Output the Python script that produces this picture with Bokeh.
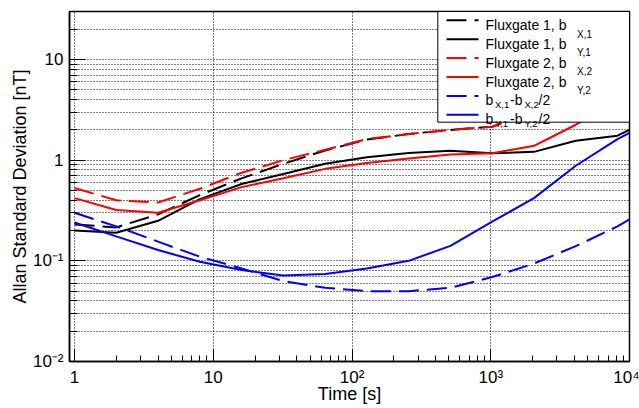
import math
from bokeh.plotting import figure
from bokeh.models import FixedTicker, Range1d
from bokeh.core.properties import value
from bokeh.embed import file_html
from bokeh.resources import INLINE

# ---------------- data ----------------
tau = [1, 2, 4, 8, 16, 32, 64, 128, 256, 512, 1024, 2048, 4096, 8192, 16384]
fg1_bx = [0.23, 0.215, 0.29, 0.45, 0.66, 0.92, 1.25, 1.60, 1.82, 2.00, 2.15, 3.00, 4.20, 6.00, 8.00]
fg1_by = [0.20, 0.19, 0.25, 0.41, 0.58, 0.73, 0.92, 1.07, 1.18, 1.24, 1.17, 1.21, 1.56, 1.75, 2.78]
fg2_bx = [0.53, 0.40, 0.38, 0.52, 0.75, 1.00, 1.27, 1.62, 1.82, 2.00, 2.15, 3.00, 4.30, 6.20, 8.50]
fg2_by = [0.42, 0.32, 0.30, 0.40, 0.54, 0.66, 0.82, 0.94, 1.04, 1.14, 1.17, 1.39, 2.25, 3.70, 5.50]
diff_x = [0.30, 0.22, 0.155, 0.11, 0.084, 0.063, 0.054, 0.050, 0.050, 0.054, 0.069, 0.094, 0.14, 0.22, 0.38]
diff_y = [0.24, 0.175, 0.128, 0.098, 0.081, 0.0715, 0.074, 0.084, 0.10, 0.141, 0.245, 0.42, 0.88, 1.62, 2.66]

x_tick_vals = [1, 10, 100, 1000, 10000]
x_tick_labels = ["1", "10", "10\u00b2", "10\u00b3", "10\u2074"]
y_tick_vals = [0.01, 0.1, 1, 10]
y_tick_labels = ["10\u207b\u00b2", "10\u207b\u00b9", "1", "10"]

x_title = "Time [s]"
y_title = "Allan Standard Deviation [nT]"

# ---------------- layout ----------------
W, H = 639, 408
FL, FR, FT, FB = 69, 10, 11, 47
X0, X1 = 0.92, 1.0e4
Y0, Y1 = 0.01, 30.0
FW, FH = W - FL - FR, H - FT - FB
FONT = "Liberation Sans"


def px2x(px):
    lx0, lx1 = math.log10(X0), math.log10(X1)
    return 10 ** (lx0 + (px - FL) / FW * (lx1 - lx0))


def py2y(py):
    ly0, ly1 = math.log10(Y0), math.log10(Y1)
    return 10 ** (ly1 - (py - FT) / FH * (ly1 - ly0))


p = figure(width=W, height=H, x_axis_type="log", y_axis_type="log",
           x_range=Range1d(X0, X1), y_range=Range1d(Y0, Y1),
           output_backend="svg", toolbar_location=None,
           min_border_left=FL, min_border_right=FR,
           min_border_top=FT, min_border_bottom=FB)
p.background_fill_color = "white"
p.border_fill_color = "white"
p.outline_line_color = "black"
p.outline_line_width = 1.5

xmin_t = [k * 10 ** e for e in range(0, 4) for k in range(2, 10)]
ymin_t = [k * 10.0 ** e for e in range(-2, 2) for k in range(2, 10)]
xt = FixedTicker(ticks=x_tick_vals, minor_ticks=xmin_t)
yt = FixedTicker(ticks=y_tick_vals, minor_ticks=ymin_t)
p.xaxis.ticker = xt
p.yaxis.ticker = yt
p.xgrid.ticker = xt
p.ygrid.ticker = yt
p.xaxis.major_label_overrides = {v: s for v, s in zip(x_tick_vals, x_tick_labels)}
p.yaxis.major_label_overrides = {v: s for v, s in zip(y_tick_vals, y_tick_labels)}

for ax in (p.xaxis[0], p.yaxis[0]):
    ax.axis_line_color = "black"
    ax.axis_line_width = 1.5
    ax.major_tick_line_color = "black"
    ax.minor_tick_line_color = "black"
    ax.major_tick_out = 0
    ax.minor_tick_out = 0
    ax.major_label_text_font = FONT
    ax.major_label_text_font_size = "17px"
    ax.major_label_text_color = "black"
    ax.axis_label_text_font = FONT
    ax.axis_label_text_font_size = "18px"
    ax.axis_label_text_font_style = "normal"
    ax.axis_label_text_color = "black"
p.xaxis.major_tick_in = 12
p.xaxis.minor_tick_in = 6
p.yaxis.major_tick_in = 16
p.yaxis.minor_tick_in = 8
p.xaxis.major_label_standoff = 6
p.yaxis.major_label_standoff = 6
p.xaxis.axis_label = x_title
p.yaxis.axis_label = y_title
p.xaxis.axis_label_standoff = -6
p.yaxis.axis_label_standoff = 0

p.xgrid.grid_line_color = "black"
p.xgrid.grid_line_dash = "1 2"
p.xgrid.grid_line_width = 1
p.ygrid.grid_line_color = "black"
p.ygrid.grid_line_dash = "1 2"
p.ygrid.grid_line_width = 1
p.ygrid.minor_grid_line_color = "black"
p.ygrid.minor_grid_line_dash = "1 2"
p.ygrid.minor_grid_line_width = 1

DASH = "20 8"
series = [
    (fg1_bx, "black", DASH),
    (fg1_by, "black", "solid"),
    (fg2_bx, "red", DASH),
    (fg2_by, "red", "solid"),
    (diff_x, "blue", DASH),
    (diff_y, "blue", "solid"),
]
for ys, col, dash in series:
    p.line(tau, ys, line_color=col, line_width=2, line_dash=dash)

# ---------------- legend (drawn by hand for the subscripts) ----------------
base0, row_step = 24.3, 18.9
p.quad(left=[px2x(437.3)], right=[X1], bottom=[py2y(121.7)], top=[Y1],
       fill_color="white", line_color="black", line_width=1, level="annotation")
for i, (ys, col, dash) in enumerate(series):
    yy = py2y(base0 + i * row_step - 4.5)
    p.segment(x0=[px2x(446)], x1=[px2x(478)], y0=[yy], y1=[yy], line_color=col,
              line_width=2, line_dash=dash, level="annotation")

leg_parts = [
    [("Fluxgate 1, b", 485, 0, 14), ("X,1", 576.5, 9.2, 10)],
    [("Fluxgate 1, b", 485, 0, 14), ("Y,1", 576.5, 9.2, 10)],
    [("Fluxgate 2, b", 485, 0, 14), ("X,2", 576.5, 9.2, 10)],
    [("Fluxgate 2, b", 485, 0, 14), ("Y,2", 576.5, 9.2, 10)],
    [("b", 485, 0, 14), ("X,1", 494.5, 4.5, 9.5), ("-b", 509.5, 0, 14), ("X,2", 524, 4.5, 9.5), ("/2", 538, 0, 14)],
    [("b", 485, 0, 14), ("Y,1", 494.5, 4.5, 9.5), ("-b", 509.5, 0, 14), ("Y,2", 524, 4.5, 9.5), ("/2", 538, 0, 14)],
]
for i, parts in enumerate(leg_parts):
    b = base0 + i * row_step
    for txt, px, dy, fs in parts:
        p.text(x=[px2x(px)], y=[py2y(b + dy)], text=[txt], text_font=value(FONT),
               text_font_size=f"{fs}px", text_baseline="alphabetic", text_align="left",
               text_color="black", level="annotation")

open("out.html", "w").write(file_html(p, INLINE))
